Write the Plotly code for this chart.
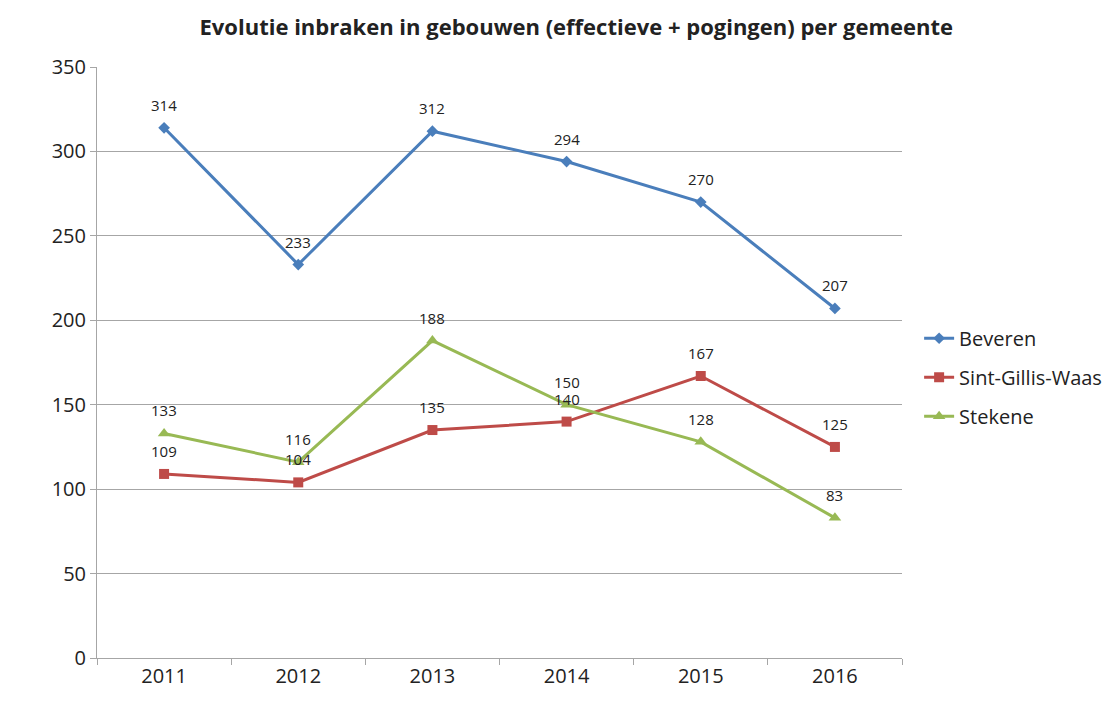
import plotly.graph_objects as go

years = ["2011", "2012", "2013", "2014", "2015", "2016"]
beveren = [314, 233, 312, 294, 270, 207]
sint_gillis = [109, 104, 135, 140, 167, 125]
stekene = [133, 116, 188, 150, 128, 83]

series = [
    ("Beveren", beveren, "#4A7EBB", "diamond", 9),
    ("Sint-Gillis-Waas", sint_gillis, "#BE4B48", "square", 10),
    ("Stekene", stekene, "#98B954", "triangle-up", 11),
]

FONT = "Open Sans"

fig = go.Figure()
for name, vals, color, sym, size in series:
    fig.add_trace(go.Scatter(
        x=years, y=vals, name=name, mode="lines+markers", legendgroup=name,
        line=dict(color=color, width=3),
        marker=dict(symbol=sym, size=size, color=color),
    ))
    for i, v in enumerate(vals):
        fig.add_annotation(
            x=i, y=v, xref="x", yref="y", text=str(v), showarrow=False,
            yshift=23, font=dict(family=FONT, size=15, color="#222222"),
        )

fig.update_layout(
    width=1110, height=701,
    margin=dict(l=89, r=215, t=59, b=51),
    paper_bgcolor="white", plot_bgcolor="white",
    title=dict(text="<b>Evolutie inbraken in gebouwen (effectieve + pogingen) per gemeente</b>",
               x=0.512, xanchor="center", y=0.972, yanchor="middle",
               font=dict(family=FONT, size=22, color="#222222")),
    font=dict(family=FONT, size=20, color="#222222"),
    showlegend=True,
    legend=dict(x=1.02, y=0.475, xanchor="left", yanchor="middle",
                font=dict(family=FONT, size=20, color="#222222"),
                itemwidth=30, tracegroupgap=10),
)
fig.update_xaxes(
    type="category", range=[-0.5, 5.5],
    showline=True, linecolor="#A6A6A6", linewidth=1,
    ticks="outside", tickson="boundaries", ticklen=6, tickcolor="#A6A6A6",
    showgrid=False, tickfont=dict(size=20),
)
fig.update_yaxes(
    range=[0, 350], dtick=50,
    showline=True, linecolor="#A6A6A6", linewidth=1,
    ticks="outside", ticklen=6, tickcolor="#A6A6A6",
    showgrid=True, gridcolor="#A6A6A6", gridwidth=1,
    zeroline=False, tickfont=dict(size=20),
)
fig.write_html("out.html")
